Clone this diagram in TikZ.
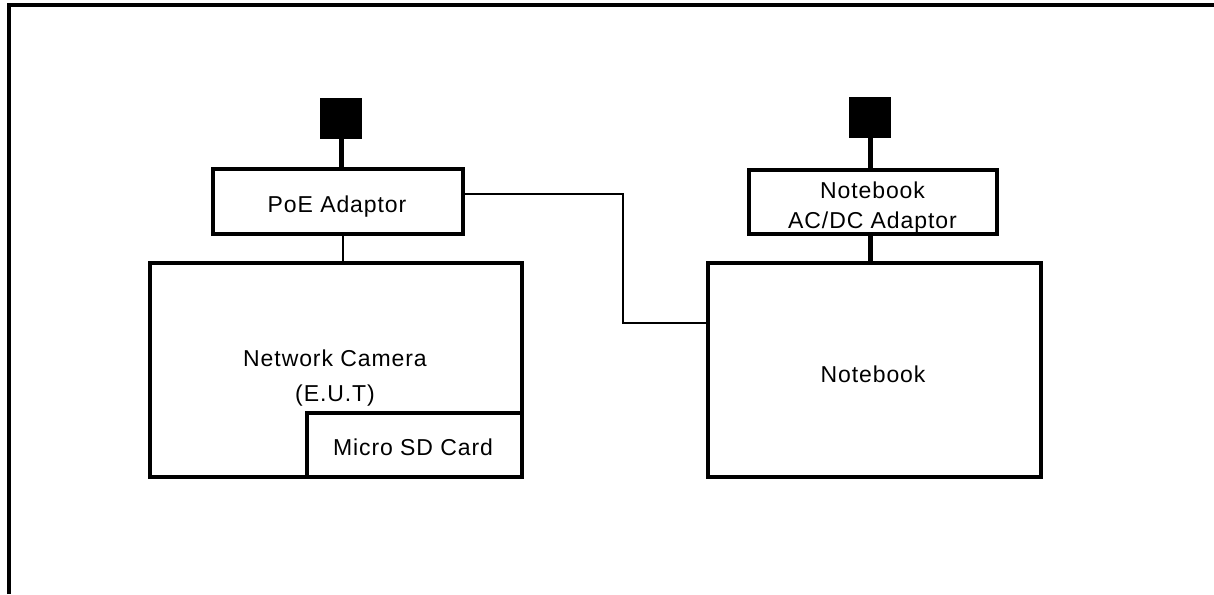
\documentclass[tikz,border=0pt]{standalone}
\usepackage{fontspec}
\setmainfont{Liberation Sans}[LetterSpace=4]
\begin{document}
\begin{tikzpicture}[x=1pt,y=-1pt,
  box/.style={draw, line width=3.2pt, rectangle, inner sep=0pt, outer sep=0pt},
  plug/.style={fill=black, rectangle, inner sep=0pt, outer sep=0pt, minimum width=42pt, minimum height=41pt},
  txt/.style={font=\fontsize{23}{28}\selectfont, inner sep=0pt, anchor=base},
  thinw/.style={line width=2pt},
  midw/.style={line width=2.5pt},
  thickw/.style={line width=5pt}]
\useasboundingbox (0,0) rectangle (1214,594);
% frame
\draw[line width=3.5pt] (9,594) -- (9,5) -- (1214,5);
% left side
\node[plug] (sqL) at (341,118.5) {};
\node[box, minimum width=250pt, minimum height=65pt] (poe) at (338,201.5) {};
\node[box, minimum width=372pt, minimum height=214pt] (cam) at (336,370) {};
\node[box, minimum width=215pt, minimum height=64pt] (sd) at (414.5,445) {};
% right side
\node[plug] (sqR) at (870,117) {};
\node[box, minimum width=248pt, minimum height=64pt] (ada) at (873,202) {};
\node[box, minimum width=333pt, minimum height=214pt] (nb) at (874.5,370) {};
% texts
\node[txt] (tpoe) at (337,212) {PoE Adaptor};
\node[txt] (tada1) at (872.5,198) {Notebook};
\node[txt] (tada2) at (872.5,228) {AC/DC Adaptor};
\node[txt] (tcam1) at (335,366) {Network Camera};
\node[txt] (tcam2) at (335,401) {(E.U.T)};
\node[txt] (tsd) at (413,455) {Micro SD Card};
\node[txt] (tnb) at (873,382) {Notebook};
% connectors
\draw[thickw] (sqL.south) -- (sqL.south |- poe.north);
\draw[midw] ([xshift=5pt]poe.south) -- ([xshift=5pt]poe.south |- cam.north);
\draw[thickw] (sqR.south) -- (sqR.south |- ada.north);
\draw[thickw] (ada.south -| sqR.south) -- (sqR.south |- nb.north);
\coordinate (bend) at (623,323);
\draw[thinw] ([yshift=7.5pt]poe.east) -| (bend) -- (bend -| nb.west);
\end{tikzpicture}
\end{document}
